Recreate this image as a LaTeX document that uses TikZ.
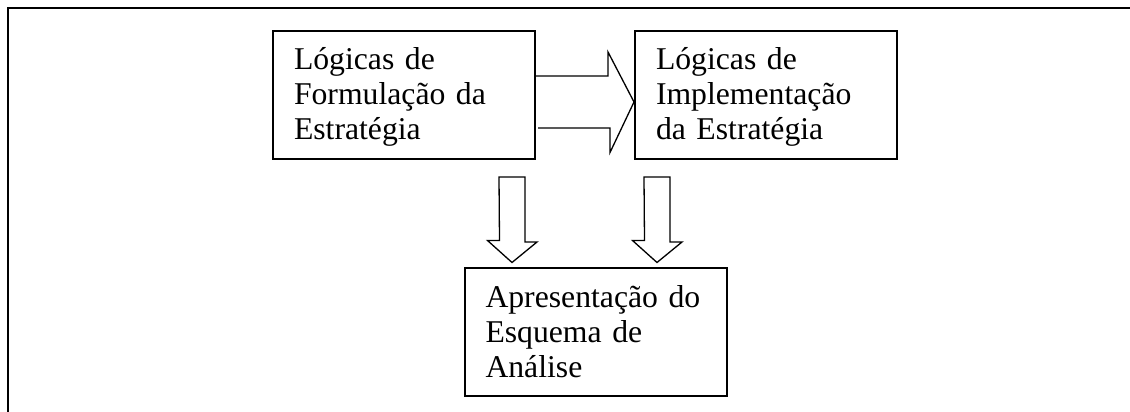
\documentclass[tikz,border=0pt]{standalone}
\usepackage{fontspec}
\setmainfont{Liberation Serif}
\usetikzlibrary{positioning}

\newcommand{\topo}{\rule{0pt}{30pt}}
\newcommand{\fundo}{\rule[-10pt]{0pt}{10pt}}

\begin{document}
\begin{tikzpicture}[x=1pt, y=1pt,
    caixa/.style={draw, line width=2pt, text width=220pt, align=left,
      inner xsep=21pt, inner ysep=0pt, minimum height=128pt,
      font=\fontsize{31.7}{35}\selectfont},
    seta/.style={draw, line width=1.3pt, line join=miter}]
  \useasboundingbox (0,0) rectangle (1130,412);
  % moldura
  \draw[line width=2.4pt] (8,-10) -- (8,404) -- (1140,404);

  \node[caixa] (form) at (404,317) {\topo L\'ogicas de\\Formula\c{c}\~ao da\\Estrat\'egia\fundo};
  \node[caixa, right=98pt of form] (impl) {\topo L\'ogicas de\\Implementa\c{c}\~ao\\da Estrat\'egia\fundo};
  \node[caixa] (anal) at (595.5,79.5) {\topo Apresenta\c{c}\~ao do\\Esquema de\\An\'alise\fundo};

  % seta horizontal
  \path[seta] ([yshift=19pt]form.east) -- ++(72,0) -- ++(0,24)
    -- ([yshift=-7pt]impl.west) -- ++(-24,-50.5) -- ++(0,24.5) -- ++(-72,0);

  % setas verticais
  \coordinate (d1) at ([xshift=-24pt, yshift=-17pt]form.south east);
  \coordinate (d2) at ([xshift=23pt, yshift=-17pt]impl.south west);
  \foreach \d in {d1,d2}
    \path[seta] ([xshift=-13pt]\d) -- ++(26,0) -- ++(0,-65) -- ++(12,0)
      -- ([yshift=5pt]\d |- anal.north) -- ++(-24.5,22) -- ++(12,0) -- cycle;
\end{tikzpicture}
\end{document}
